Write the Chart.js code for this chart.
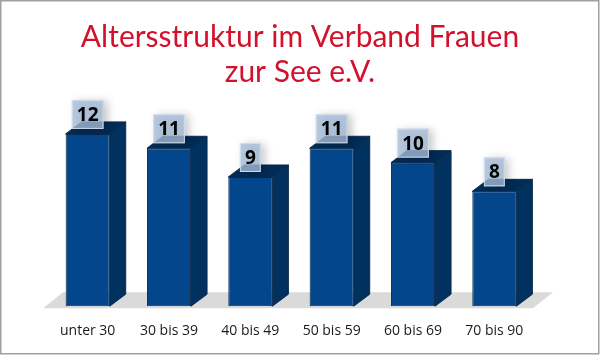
<!DOCTYPE html>
<html><head><meta charset="utf-8">
<script src="https://cdn.jsdelivr.net/npm/chart.js@4.4.1/dist/chart.umd.min.js"></script>
<style>html,body{margin:0;padding:0;background:#fff}#wrap{position:relative;width:600px;height:355px}</style>
</head><body><div id="wrap"><canvas id="c" width="600" height="355"></canvas></div>
<script>
const titleLines = ["Altersstruktur im Verband Frauen", "zur See e.V."];
const categories = ["unter 30", "30 bis 39", "40 bis 49", "50 bis 59", "60 bis 69", "70 bis 90"];
const members = [12, 11, 9, 11, 10, 8];

const DX = 16, DY = -12;
const threeD = {
  id: 'threeD',
  beforeDatasetsDraw(chart) {
    const ctx = chart.ctx, a = chart.chartArea;
    const base = chart.scales.y.getPixelForValue(0);
    ctx.save();
    ctx.fillStyle = '#dadada';
    ctx.beginPath();
    ctx.moveTo(a.left - 4, base + 2);
    ctx.lineTo(a.right - 2, base + 2);
    ctx.lineTo(a.right + 18, base - 14);
    ctx.lineTo(a.left + 16, base - 14);
    ctx.closePath();
    ctx.fill();
    ctx.restore();
  },
  afterDatasetsDraw(chart) {
    const ctx = chart.ctx;
    const meta = chart.getDatasetMeta(0);
    ctx.save();
    meta.data.forEach((bar, i) => {
      const l = bar.x - bar.width / 2, r = bar.x + bar.width / 2, t = bar.y, b = bar.base;
      ctx.lineWidth = 1;
      ctx.strokeStyle = '#0b2a4c';
      ctx.fillStyle = '#01315f';
      ctx.beginPath();
      ctx.moveTo(r, t); ctx.lineTo(r + DX, t + DY); ctx.lineTo(r + DX, b + DY); ctx.lineTo(r, b); ctx.closePath();
      ctx.fill(); ctx.stroke();
      ctx.fillStyle = '#022c56';
      ctx.beginPath();
      ctx.moveTo(l, t); ctx.lineTo(l + DX, t + DY); ctx.lineTo(r + DX, t + DY); ctx.lineTo(r, t); ctx.closePath();
      ctx.fill(); ctx.stroke();
    });
    ctx.font = 'bold 19px "Open Sans", sans-serif';
    ctx.textAlign = 'center';
    ctx.textBaseline = 'middle';
    meta.data.forEach((bar, i) => {
      const txt = String(members[i]);
      const w = ctx.measureText(txt).width + 10, h = 29;
      const bx = bar.x - w / 2, by = bar.y - 5 - h;
      ctx.save();
      ctx.shadowColor = 'rgba(0,0,0,0.28)';
      ctx.shadowBlur = 8; ctx.shadowOffsetX = 4; ctx.shadowOffsetY = 1;
      ctx.fillStyle = 'rgba(165,188,216,0.78)';
      ctx.fillRect(bx, by, w, h);
      ctx.restore();
      ctx.strokeStyle = 'rgba(215,225,238,0.9)';
      ctx.strokeRect(bx + 0.5, by + 0.5, w - 1, h - 1);
      ctx.fillStyle = '#000';
      ctx.fillText(txt, bar.x, by + h / 2 + 1);
    });
    ctx.restore();
  },
  afterDraw(chart) {
    const ctx = chart.ctx;
    ctx.save();
    ctx.strokeStyle = '#a0a0a0';
    ctx.lineWidth = 1.5;
    ctx.strokeRect(0.75, 0.75, 598, 353);
    ctx.restore();
  }
};

new Chart(document.getElementById('c'), {
  type: 'bar',
  data: {
    labels: categories,
    datasets: [{
      data: members,
      backgroundColor: '#03468b',
      borderColor: '#0b2a4c',
      borderWidth: 1,
      borderSkipped: false,
      categoryPercentage: 1,
      barPercentage: 0.542
    }]
  },
  options: {
    responsive: false,
    animation: false,
    layout: { padding: { left: 47, right: 47, top: 0, bottom: 0 } },
    plugins: {
      legend: { display: false },
      tooltip: { enabled: false },
      title: {
        display: true,
        text: titleLines,
        color: '#d2112c',
        font: { family: 'Lato, sans-serif', size: 30, weight: 'normal', lineHeight: 1.17 },
        padding: { top: 20, bottom: 15 }
      }
    },
    scales: {
      x: {
        grid: { display: false, drawTicks: false },
        border: { display: false },
        ticks: { color: '#1a1a1a', font: { family: '"Open Sans", sans-serif', size: 14 }, padding: 16 }
      },
      y: {
        position: 'right',
        min: 0, max: 14,
        grid: { display: false, drawTicks: false },
        border: { display: false },
        ticks: { display: false },
        afterFit(scale) { scale.width = 18; }
      }
    }
  },
  plugins: [threeD]
});
</script></body></html>
